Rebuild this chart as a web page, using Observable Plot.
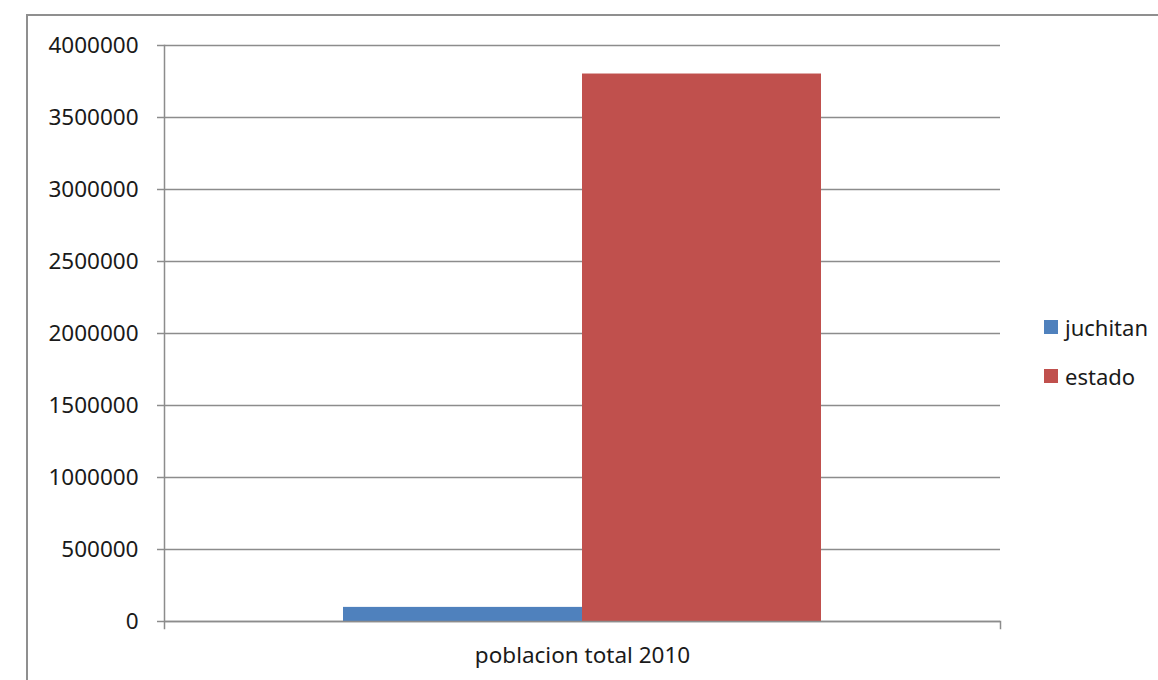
<!DOCTYPE html>
<html><head><meta charset="utf-8">
<script src="https://cdn.jsdelivr.net/npm/d3@7"></script>
<script src="https://cdn.jsdelivr.net/npm/@observablehq/plot@0.6"></script>
<style>
body{margin:0;background:#fff;}
#wrap{position:relative;width:1158px;height:680px;overflow:hidden;font-family:"Noto Sans",sans-serif;}
#border{position:absolute;left:26px;top:14px;width:2000px;height:2000px;border-left:2px solid #8f8f8f;border-top:2px solid #8f8f8f;}
#chart{position:absolute;left:0;top:0;}
#legend{position:absolute;left:1044px;top:320px;}
</style>
</head><body>
<div id="wrap"><div id="border"></div><div id="chart"></div><svg id="legend" width="114" height="80"></svg></div>
<script>
const categories = ["poblacion total 2010"];
const series = ["juchitan", "estado"];
const values = [98000, 3801962];
const colors = ["#4f81bd", "#c0504d"];
const yTicks = [0, 500000, 1000000, 1500000, 2000000, 2500000, 3000000, 3500000, 4000000];

const data = series.map((s, i) => ({category: categories[0], series: s, value: values[i]}));

const W = 1158, H = 680, mT = 45, mB = 59, mL = 164, mR = 158;
const plotH = H - mT - mB;
const gray = "#8c8c8c";

const chart = Plot.plot({
  width: W, height: H,
  marginTop: mT, marginBottom: mB, marginLeft: mL, marginRight: mR,
  style: {fontFamily: '"Noto Sans", sans-serif', fontSize: "22.5px", color: "#1a1a1a", background: "transparent"},
  fx: {domain: categories, axis: null, padding: 0},
  x: {domain: series, axis: null, paddingInner: 0, paddingOuter: 0.745},
  y: {domain: [0, 4000000], axis: null},
  color: {domain: series, range: colors},
  marks: [
    Plot.gridY(yTicks, {stroke: gray, strokeOpacity: 1, strokeWidth: 1.5}),
    Plot.barY(data, {fx: "category", x: "series", y: "value", fill: "series"}),
    Plot.ruleY([0], {stroke: gray, strokeWidth: 1.5}),
    Plot.frame({anchor: "left", stroke: gray, strokeWidth: 1.5, insetBottom: -7}),
    Plot.frame({anchor: "right", stroke: gray, strokeWidth: 1.5, insetTop: plotH, insetBottom: -7}),
    Plot.axisY(yTicks, {tickSize: 7, tickPadding: 19, tickFormat: d => String(d), stroke: gray, strokeWidth: 1.5, fill: "#1a1a1a", fontSize: 22.5, label: null}),
    Plot.axisFx({anchor: "bottom", tickSize: 0, tickPadding: 26, fill: "#1a1a1a", fontSize: 22.5, label: null})
  ]
});
document.getElementById("chart").appendChild(chart);

const leg = d3.select("#legend");
series.forEach((s, i) => {
  const g = leg.append("g").attr("transform", `translate(0,${i * 49})`);
  g.append("rect").attr("x", 0).attr("y", 0).attr("width", 14).attr("height", 14).attr("fill", colors[i]);
  g.append("text").attr("x", 21).attr("y", 16).attr("font-size", 22)
    .attr("font-family", '"Noto Sans", sans-serif').attr("fill", "#1a1a1a").text(s);
});
</script>
</body></html>
